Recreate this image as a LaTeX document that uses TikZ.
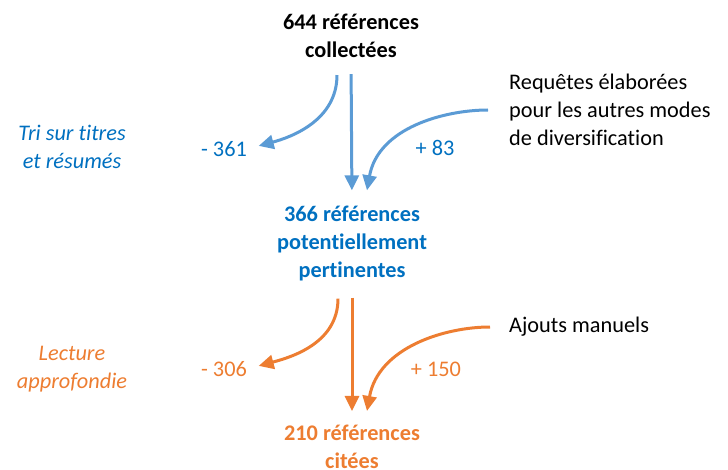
\documentclass[tikz,border=0pt]{standalone}
\usepackage{fontspec}
\setmainfont{Carlito}[Ligatures=NoCommon]
\usepackage{xcolor}
\usepackage{tikz}
\usetikzlibrary{calc}
\usetikzlibrary{arrows.meta}
\definecolor{flecheBleu}{HTML}{5B9BD5}
\definecolor{texteBleu}{HTML}{0070C0}
\definecolor{texteOrange}{HTML}{ED7D31}

\begin{document}
\begin{tikzpicture}[x=1pt,y=-1pt,
  txt/.style={font=\fontsize{22.3}{28}\selectfont, inner sep=0, align=center},
  etape/.style={txt, font=\fontsize{22.3}{28}\selectfont\bfseries},
  tache/.style={txt, font=\fontsize{22.3}{28}\selectfont\itshape},
  fleche/.style={line width=3pt, -{Triangle[length=15pt,width=14pt]}},
]
\useasboundingbox (0,0) rectangle (728,470);

% etapes
\node[etape] (n644) at (351,36) {644 références\\collectées};
\node[etape, texteBleu] (n366) at (352,244) {366 références\\potentiellement\\pertinentes};
\node[etape, texteOrange] (n210) at (352,447) {210 références\\citées};

% premier tri
\node[tache, texteBleu] (tri) at (72,147) {Tri sur titres\\et résumés};
\node[txt, texteBleu] (m361) at (224,149) {- 361};
\node[txt, texteBleu] (p83) at (435,148) {+ 83};
\node[txt, anchor=west, align=left] (req) at (509,110) {Requêtes élaborées\\pour les autres modes\\de diversification};

\draw[fleche, flecheBleu, shorten <=16pt, shorten >=16pt] (n644.south) -- (n366.north);
\draw[fleche, flecheBleu, shorten >=12pt] ($(n644.south)+(-14,17)$) to[out=-90, in=15] (m361.east);
\draw[fleche, flecheBleu, shorten <=21pt] (req.west) to[out=180, in=80] ($(n366.north)+(15,-16)$);

% lecture
\node[tache, texteOrange] (lect) at (72,369) {Lecture\\approfondie};
\node[txt, texteOrange] (m306) at (224,369) {- 306};
\node[txt, texteOrange] (p150) at (436,369) {+ 150};
\node[txt, anchor=west] (ajout) at (509,327) {Ajouts manuels};

\draw[fleche, texteOrange, shorten <=16pt, shorten >=14pt] (n366.south) -- (n210.north);
\draw[fleche, texteOrange, shorten >=12pt] ($(n366.south)+(-14,17)$) to[out=-90, in=15] (m306.east);
\draw[fleche, texteOrange, shorten <=19pt] (ajout.west) to[out=180, in=80] ($(n210.north)+(15,-14)$);
\end{tikzpicture}
\end{document}
